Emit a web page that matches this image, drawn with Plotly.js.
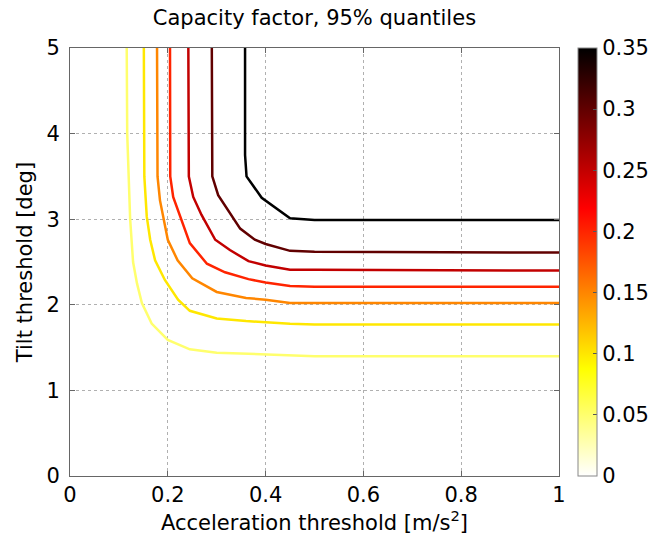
<!DOCTYPE html>
<html>
<head>
<meta charset="utf-8">
<script src="https://cdn.plot.ly/plotly-3.0.1.min.js"></script>
<style>html,body{margin:0;padding:0;background:#fff;}#chart{width:662px;height:541px;}</style>
</head>
<body>
<div id="chart"></div>
<script>
// Contour levels (capacity factor)
const levels = [0.05, 0.10, 0.15, 0.20, 0.25, 0.30, 0.35];

// Contour lines: x = acceleration threshold [m/s^2], y = tilt threshold [deg]
const x_005 = [0.116, 0.117, 0.120, 0.123, 0.129, 0.137, 0.147, 0.167, 0.200, 0.245, 0.300, 0.360, 0.450, 0.500, 1.000];
const y_005 = [5.00, 4.00, 3.50, 3.00, 2.50, 2.25, 2.02, 1.78, 1.59, 1.48, 1.44, 1.43, 1.41, 1.40, 1.40];

const x_010 = [0.151, 0.151, 0.152, 0.157, 0.164, 0.174, 0.194, 0.221, 0.245, 0.300, 0.360, 0.450, 0.500, 1.000];
const y_010 = [5.00, 3.75, 3.50, 3.03, 2.76, 2.52, 2.29, 2.06, 1.93, 1.84, 1.81, 1.78, 1.77, 1.77];

const x_015 = [0.178, 0.178, 0.179, 0.184, 0.191, 0.200, 0.220, 0.250, 0.300, 0.360, 0.400, 0.450, 0.500, 1.000];
const y_015 = [5.00, 3.75, 3.50, 3.22, 3.03, 2.76, 2.52, 2.31, 2.15, 2.08, 2.06, 2.02, 2.02, 2.02];

const x_020 = [0.2045, 0.2045, 0.205, 0.211, 0.225, 0.245, 0.280, 0.317, 0.365, 0.400, 0.450, 0.500, 1.000];
const y_020 = [5.00, 3.75, 3.50, 3.26, 3.03, 2.72, 2.48, 2.38, 2.30, 2.26, 2.22, 2.21, 2.21];

const x_025 = [0.242, 0.242, 0.243, 0.252, 0.269, 0.297, 0.327, 0.365, 0.400, 0.450, 0.500, 1.000];
const y_025 = [5.00, 3.75, 3.50, 3.26, 3.05, 2.76, 2.64, 2.51, 2.46, 2.41, 2.41, 2.40];

const x_030 = [0.290, 0.290, 0.291, 0.303, 0.327, 0.348, 0.378, 0.400, 0.450, 0.500, 1.000];
const y_030 = [5.00, 3.75, 3.50, 3.28, 3.07, 2.89, 2.76, 2.71, 2.63, 2.62, 2.61];

const x_035 = [0.358, 0.358, 0.361, 0.392, 0.450, 0.500, 1.000];
const y_035 = [5.00, 3.75, 3.50, 3.25, 3.01, 2.99, 2.99];

const xTicks = [0, 0.2, 0.4, 0.6, 0.8, 1];
const yTicks = [0, 1, 2, 3, 4, 5];
const cbTicks = [0, 0.05, 0.1, 0.15, 0.2, 0.25, 0.3, 0.35];

// ---- styling ----
const cmin = 0, cmax = 0.35;
// reversed "hot" colormap
const colorscale = [[0, '#ffffff'], [0.25, '#ffff00'], [0.625, '#ff0000'], [1, '#000000']];
function hex(v){ const h = Math.round(Math.max(0, Math.min(1, v)) * 255).toString(16); return h.length < 2 ? '0' + h : h; }
function levelColor(v){
  const t = 1 - (v - cmin) / (cmax - cmin);
  const r = t / 0.375, g = (t - 0.375) / 0.375, b = (t - 0.75) / 0.25;
  return '#' + hex(r) + hex(g) + hex(b);
}

const xs = [x_005, x_010, x_015, x_020, x_025, x_030, x_035];
const ys = [y_005, y_010, y_015, y_020, y_025, y_030, y_035];

const FONT = '"DejaVu Sans", "Liberation Sans", Arial, sans-serif';

const traces = levels.map((lv, i) => ({
  type: 'scatter', mode: 'lines',
  x: xs[i], y: ys[i],
  line: {color: levelColor(lv), width: 2.5},
  showlegend: false, hoverinfo: 'skip'
}));

// colorbar carrier
traces.push({
  type: 'scatter', mode: 'markers',
  x: [null], y: [null],
  showlegend: false, hoverinfo: 'skip',
  marker: {
    color: [cmin], cmin: cmin, cmax: cmax, colorscale: colorscale, showscale: true,
    colorbar: {
      x: 578 / 662, xanchor: 'left', xref: 'container',
      y: 0.5, yanchor: 'middle', len: 1, lenmode: 'fraction',
      thickness: 19, thicknessmode: 'pixels',
      outlinecolor: '#888', outlinewidth: 1,
      tickmode: 'array', tickvals: cbTicks, ticktext: cbTicks.map(String),
      ticks: 'inside', ticklen: 4, tickcolor: '#555',
      tickfont: {family: FONT, size: 21, color: '#000'},
      xpad: 0, ypad: 0
    }
  }
});

const axisCommon = {
  showline: true, linecolor: '#666', linewidth: 1, mirror: 'ticks',
  ticks: 'inside', ticklen: 5, tickcolor: '#666',
  showgrid: true, gridcolor: '#b0b0b0', griddash: 'dot', gridwidth: 1,
  zeroline: false,
  tickfont: {family: FONT, size: 21, color: '#000'}
};

const layout = {
  width: 662, height: 541,
  margin: {l: 70, r: 103, t: 48, b: 65, pad: 0, autoexpand: false},
  paper_bgcolor: '#fff', plot_bgcolor: '#fff',
  font: {family: FONT, color: '#000'},
  title: {text: 'Capacity factor, 95% quantiles', font: {family: FONT, size: 21, color: '#000'},
          x: 0.475, xref: 'container', xanchor: 'center', y: 0.967, yref: 'container', yanchor: 'middle'},
  xaxis: Object.assign({}, axisCommon, {
    range: [0, 1], tickmode: 'array', tickvals: xTicks, ticktext: xTicks.map(String),
    title: {text: 'Acceleration threshold [m/s<sup>2</sup>]', font: {family: FONT, size: 21, color: '#000'}, standoff: 4}
  }),
  yaxis: Object.assign({}, axisCommon, {
    range: [0, 5], tickmode: 'array', tickvals: yTicks, ticktext: yTicks.map(String),
    ticklabelstandoff: 5,
    title: {text: 'Tilt threshold [deg]', font: {family: FONT, size: 21, color: '#000'}, standoff: 8}
  })
};

Plotly.newPlot('chart', traces, layout, {displayModeBar: false, staticPlot: true});
</script>
</body>
</html>
